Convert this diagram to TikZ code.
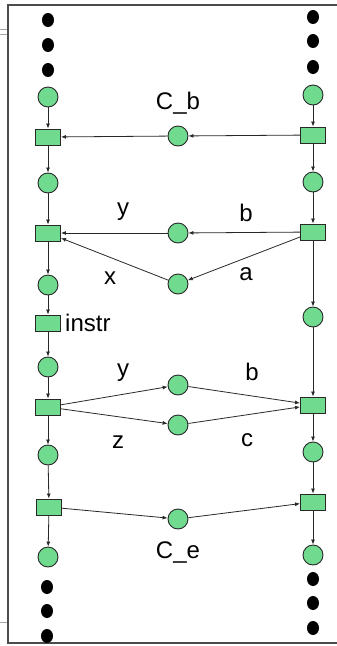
\documentclass[tikz,border=0pt]{standalone}
\usepackage{fontspec}
\setmainfont{Liberation Sans}
\usetikzlibrary{arrows.meta,shapes.geometric}
\definecolor{pgreen}{RGB}{112,218,142}
\definecolor{edgec}{RGB}{40,40,40}
\tikzset{
  place/.style={circle,draw=edgec,fill=pgreen,line width=0.9pt,minimum size=20pt,inner sep=0pt},
  trans/.style={rectangle,draw=edgec,fill=pgreen,line width=0.9pt,minimum width=25pt,minimum height=16pt,inner sep=0pt},
  blob/.style={ellipse,fill=black,minimum width=12pt,minimum height=14pt,inner sep=0pt},
  arc/.style={draw=edgec,line width=0.8pt,-{Latex[length=5pt,width=4pt]}},
  lab/.style={font=\fontsize{24}{28}\selectfont,inner sep=0pt},
  frame/.style={draw=black!70,line width=1.2pt},
  artifact/.style={draw=black!35,line width=1pt}
}
\begin{document}
\begin{tikzpicture}[x=1pt,y=-1pt]
\useasboundingbox (0,0) rectangle (337,646);
% frame
\draw[frame] (337,5) -- (8,5) -- (8,643) -- (337,643);
\draw[artifact] (0,29) -- (7,29) (0,34) -- (7,34) (0,622) -- (7,622);
% left column
\node[blob] (ld1) at (48,20) {};
\node[blob] (ld2) at (48,45) {};
\node[blob] (ld3) at (48,70) {};
\node[place] (lp1) at (48,97) {};
\node[trans] (lt1) at (48,137) {};
\node[place] (lp2) at (48,183) {};
\node[trans] (lt2) at (48,233) {};
\node[place] (lp3) at (48,285) {};
\node[trans] (lti) at (48,323) {};
\node[place] (lp4) at (48,367) {};
\node[trans] (lt3) at (48,407) {};
\node[place] (lp5) at (48,455) {};
\node[trans] (lt4) at (49,507) {};
\node[place] (lp6) at (48,557) {};
\node[blob] (ld4) at (47,587) {};
\node[blob] (ld5) at (47,611) {};
\node[blob] (ld6) at (47,636) {};
% right column
\node[blob] (rd1) at (313,17) {};
\node[blob] (rd2) at (313,41) {};
\node[blob] (rd3) at (313,67) {};
\node[place] (rp1) at (313,95) {};
\node[trans] (rt1) at (313,135) {};
\node[place] (rp2) at (313,182) {};
\node[trans] (rt2) at (313,232) {};
\node[place] (rp3) at (313,317) {};
\node[trans] (rt3) at (313,405) {};
\node[place] (rp4) at (313,452) {};
\node[trans] (rt4) at (313,502) {};
\node[place] (rp5) at (313,555) {};
\node[blob] (rd4) at (313,579) {};
\node[blob] (rd5) at (313,603) {};
\node[blob] (rd6) at (313,628) {};
% middle places
\node[place] (cb) at (178,136) {};
\node[place] (my) at (178,233) {};
\node[place] (ma) at (178,284) {};
\node[place] (my2) at (178,385) {};
\node[place] (mz) at (178,425) {};
\node[place] (ce) at (178,519) {};
% labels
\node[lab] at (178,103) {C\_b};
\node[lab] at (123,212) {y};
\node[lab] at (246,213) {b};
\node[lab] at (110,278) {x};
\node[lab] at (246,274) {a};
\node[lab,anchor=west] at (65,323) {instr};
\node[lab] at (123,373) {y};
\node[lab] at (252,372) {b};
\node[lab] at (118,442) {z};
\node[lab] at (247,440) {c};
\node[lab] at (178,552) {C\_e};
% left column arcs
\draw[arc] (lp1) -- (lt1);
\draw[arc] (lt1) -- (lp2);
\draw[arc] (lp2) -- (lt2);
\draw[arc] (lt2) -- (lp3);
\draw[arc] (lp3) -- (lti);
\draw[arc] (lti) -- (lp4);
\draw[arc] (lp4) -- (lt3);
\draw[arc] (lt3) -- (lp5);
\draw[arc] (lp5) -- (lt4);
\draw[arc] (lt4) -- (lp6);
% right column arcs
\draw[arc] (rp1) -- (rt1);
\draw[arc] (rt1) -- (rp2);
\draw[arc] (rp2) -- (rt2);
\draw[arc] (rt2) -- (rp3);
\draw[arc] (rp3) -- (rt3);
\draw[arc] (rt3) -- (rp4);
\draw[arc] (rp4) -- (rt4);
\draw[arc] (rt4) -- (rp5);
% cross arcs
\draw[arc] (rt1) -- (cb);
\draw[arc] (cb) -- (lt1);
\draw[arc] (rt2) -- (my);
\draw[arc] (my) -- (lt2);
\draw[arc] (rt2) -- (ma);
\draw[arc] (ma) -- (lt2);
\draw[arc] (lt3) -- (my2);
\draw[arc] (my2) -- (rt3);
\draw[arc] (lt3) -- (mz);
\draw[arc] (mz) -- (rt3);
\draw[arc] (lt4) -- (ce);
\draw[arc] (ce) -- (rt4);
\end{tikzpicture}
\end{document}
